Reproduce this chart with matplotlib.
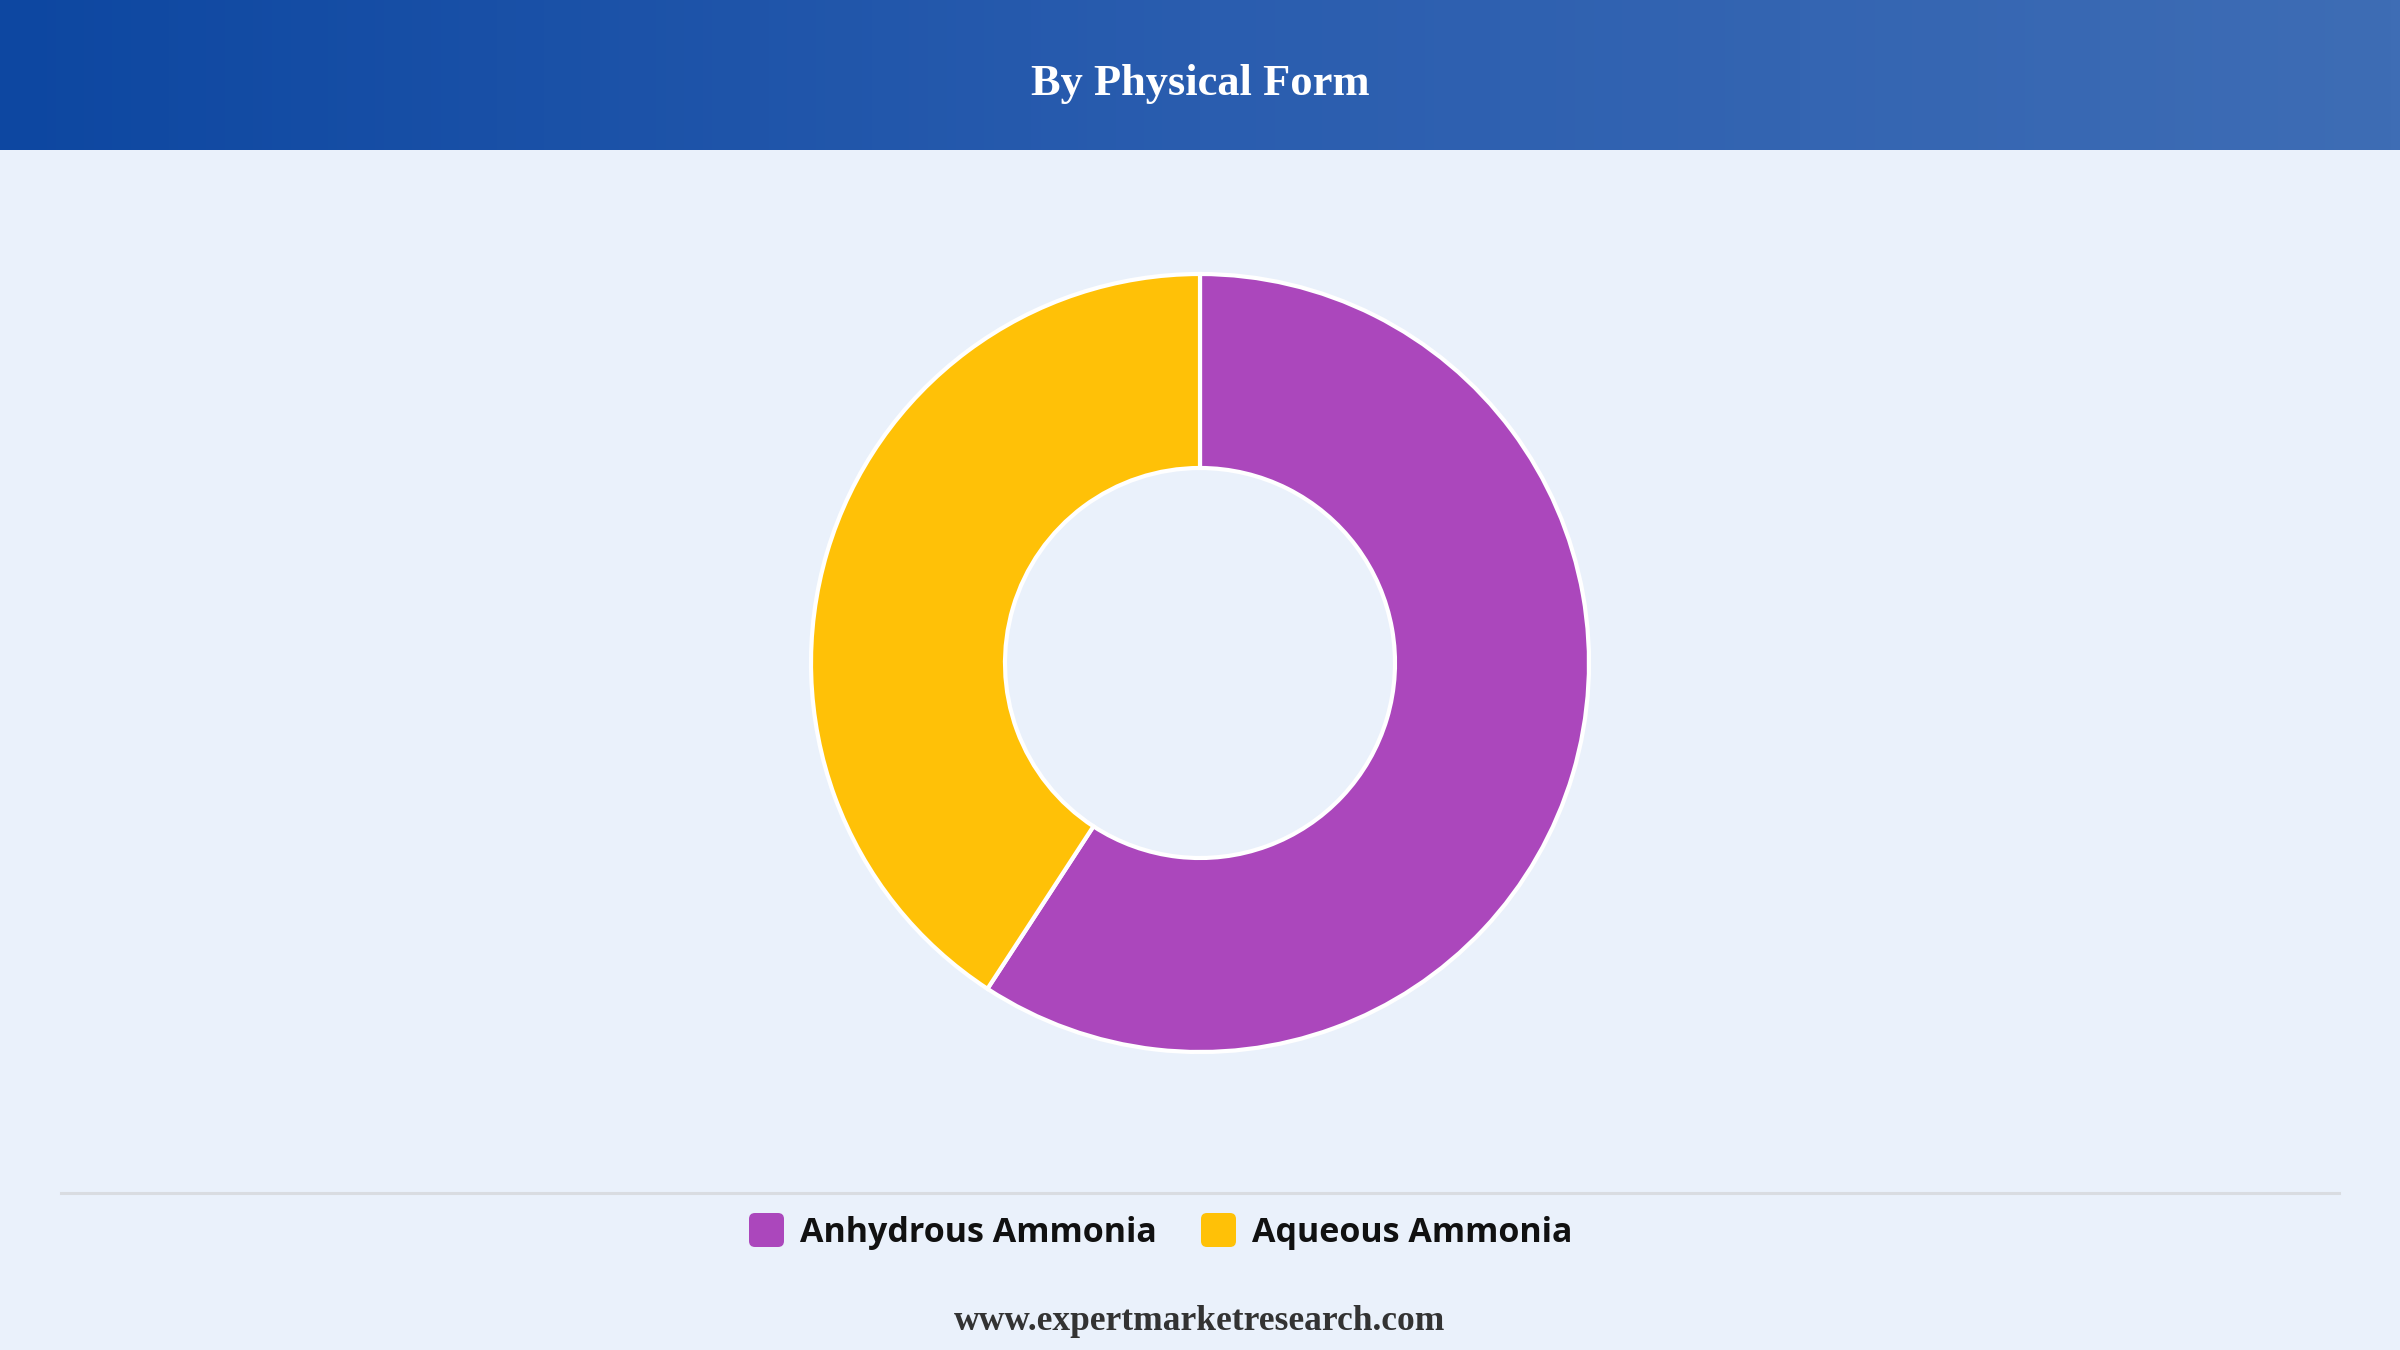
import numpy as np
import matplotlib.pyplot as plt
from matplotlib.colors import LinearSegmentedColormap
from matplotlib.patches import FancyBboxPatch

labels = ["Anhydrous Ammonia", "Aqueous Ammonia"]
shares = [59.2, 40.8]
colors = ["#AB47BC", "#FFC107"]

W, H = 2400, 1350
fig = plt.figure(figsize=(24, 13.5), dpi=100)
fig.patch.set_facecolor("#EAF1FB")

# full-figure axes in pixel coordinates
ax = fig.add_axes([0, 0, 1, 1])
ax.set_facecolor("#EAF1FB")

# header band with horizontal gradient
cmap = LinearSegmentedColormap.from_list("hdr", ["#0D47A1", "#2A5DAF", "#3E6DB5"])
grad = np.linspace(0, 1, 256).reshape(1, -1)
ax.imshow(grad, cmap=cmap, aspect="auto", extent=[0, W, H - 150, H], zorder=1)
ax.text(W / 2, H - 84, "By Physical Form", color="white", fontsize=32,
        fontweight="bold", family="Liberation Serif", ha="center", va="center", zorder=2)

# donut
ax.pie(shares, colors=colors, startangle=90, counterclock=False,
       center=(1200, 687), radius=389,
       wedgeprops=dict(width=194, edgecolor="white", linewidth=3))

# separator
ax.plot([61, 2339], [H - 1193, H - 1193], color="#D9DCE1", linewidth=2.2, zorder=1)

# legend
ly = H - 1230
entries = [(749, 800), (1201, 1252)]
for (mx, tx), lab, col in zip(entries, labels, colors):
    ax.add_patch(FancyBboxPatch((mx, ly - 17), 35, 34,
                                boxstyle="round,pad=0,rounding_size=6",
                                facecolor=col, edgecolor="none", zorder=3))
    ax.text(tx, ly - 3, lab, fontsize=24.5, fontweight="bold", family="Open Sans",
            color="#111111", ha="left", va="center", zorder=3)

# footer
ax.text(W / 2, H - 1322, "www.expertmarketresearch.com", fontsize=25.5,
        fontweight="bold", family="Liberation Serif", color="#333333",
        ha="center", va="center", zorder=3)

ax.set_xlim(0, W)
ax.set_ylim(0, H)
ax.set_aspect("auto")
ax.axis("off")

fig.savefig("out.png", dpi=100, facecolor=fig.get_facecolor())
